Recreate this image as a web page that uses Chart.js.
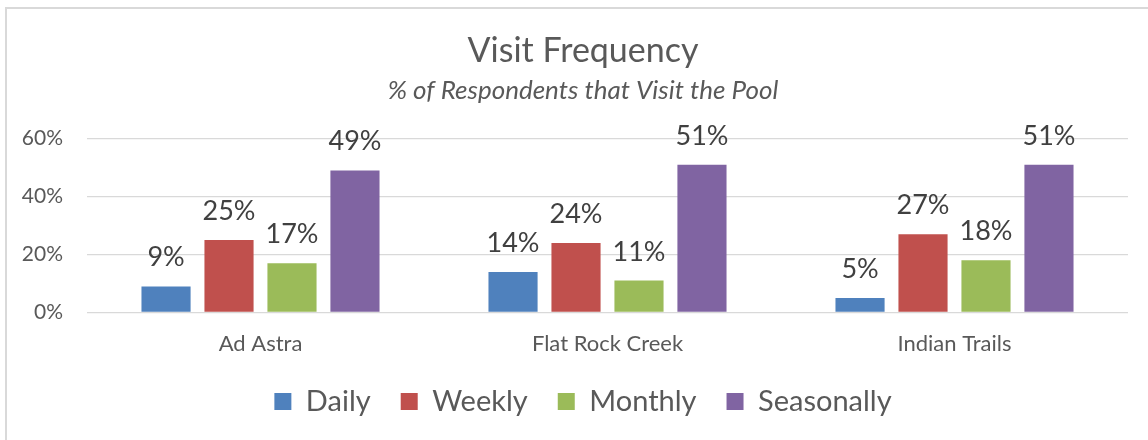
<!DOCTYPE html>
<html lang="en">
<head>
    <meta charset="UTF-8">
    <title>Visit Frequency</title>
    <style>
        body {
            margin: 0;
            background-color: white;
            overflow: hidden;
        }
        #frame {
            position: absolute;
            left: 5px;
            top: 7px;
            width: 1300px;
            height: 600px;
            border-left: 2px solid #d9d9d9;
            border-top: 2px solid #d9d9d9;
            pointer-events: none;
        }
        canvas {
            position: absolute;
            left: 0;
            top: 0;
        }
    </style>
</head>
<body>
    <canvas id="visitChart" width="1148" height="440"></canvas>
    <div id="frame"></div>

    <script src="https://cdn.jsdelivr.net/npm/chart.js"></script>
    <script>
        // data
        const categories = ['Ad Astra', 'Flat Rock Creek', 'Indian Trails'];
        const daily = [0.09, 0.14, 0.05];
        const weekly = [0.25, 0.24, 0.27];
        const monthly = [0.17, 0.11, 0.18];
        const seasonally = [0.49, 0.51, 0.51];
        const seriesNames = ['Daily', 'Weekly', 'Monthly', 'Seasonally'];
        const seriesColors = ['#4f81bd', '#c0504d', '#9bbb59', '#8064a2'];
        const yTicks = [0, 0.2, 0.4, 0.6];

        const fontFamily = 'Lato, "Open Sans", sans-serif';
        const grey = '#595959';

        // labels above each bar (no datalabels plugin available offline)
        const barLabels = {
            id: 'barLabels',
            afterDatasetsDraw(chart) {
                const ctx = chart.ctx;
                ctx.save();
                ctx.font = '27px ' + fontFamily;
                ctx.fillStyle = '#404040';
                ctx.textAlign = 'center';
                ctx.textBaseline = 'alphabetic';
                chart.data.datasets.forEach((ds, i) => {
                    chart.getDatasetMeta(i).data.forEach((bar, j) => {
                        ctx.fillText(Math.round(ds.data[j] * 100) + '%', bar.x, bar.y - 20);
                    });
                });
                ctx.restore();
            }
        };

        // y labels sit partly in the left layout padding, so let their clip box reach the edge
        const widenYLabels = {
            id: 'widenYLabels',
            afterLayout(chart) {
                chart.scales.y.left = 0;
            }
        };

        const seriesData = [daily, weekly, monthly, seasonally];

        new Chart(document.getElementById('visitChart'), {
            type: 'bar',
            data: {
                labels: categories,
                datasets: seriesNames.map((name, i) => ({
                    label: name,
                    data: seriesData[i],
                    backgroundColor: seriesColors[i],
                    categoryPercentage: 0.726,
                    barPercentage: 0.78
                }))
            },
            options: {
                responsive: false,
                animation: false,
                layout: {
                    // left padding centres title and legend like the original frame
                    padding: { left: 38, right: 20, top: 0, bottom: 14 }
                },
                plugins: {
                    title: {
                        display: true,
                        text: 'Visit Frequency',
                        color: grey,
                        font: { family: fontFamily, size: 34, weight: 'normal' },
                        padding: { top: 31, bottom: 0 }
                    },
                    subtitle: {
                        display: true,
                        text: '% of Respondents that Visit the Pool',
                        color: grey,
                        font: { family: fontFamily, size: 26, style: 'italic' },
                        padding: { top: 3, bottom: 32.6 }
                    },
                    legend: {
                        position: 'bottom',
                        labels: {
                            color: grey,
                            font: { family: fontFamily, size: 29 },
                            boxWidth: 17,
                            boxHeight: 17,
                            padding: 30
                        }
                    },
                    tooltip: { enabled: false }
                },
                scales: {
                    x: {
                        grid: { display: false, drawTicks: false },
                        border: { display: false },
                        ticks: {
                            color: grey,
                            font: { family: fontFamily, size: 22 },
                            padding: 18
                        },
                        afterFit(scale) {
                            scale.height = 44.5;
                        }
                    },
                    y: {
                        min: 0,
                        max: 0.6,
                        afterBuildTicks(scale) {
                            scale.ticks = yTicks.map(v => ({ value: v }));
                        },
                        grid: { color: '#d9d9d9', lineWidth: 1.3, drawTicks: false },
                        border: { display: false },
                        ticks: {
                            color: grey,
                            font: { family: fontFamily, size: 21 },
                            padding: 24,
                            callback: v => Math.round(v * 100) + '%'
                        },
                        afterFit(scale) {
                            scale.width = 49;
                        }
                    }
                }
            },
            plugins: [barLabels, widenYLabels]
        });
    </script>
</body>
</html>
